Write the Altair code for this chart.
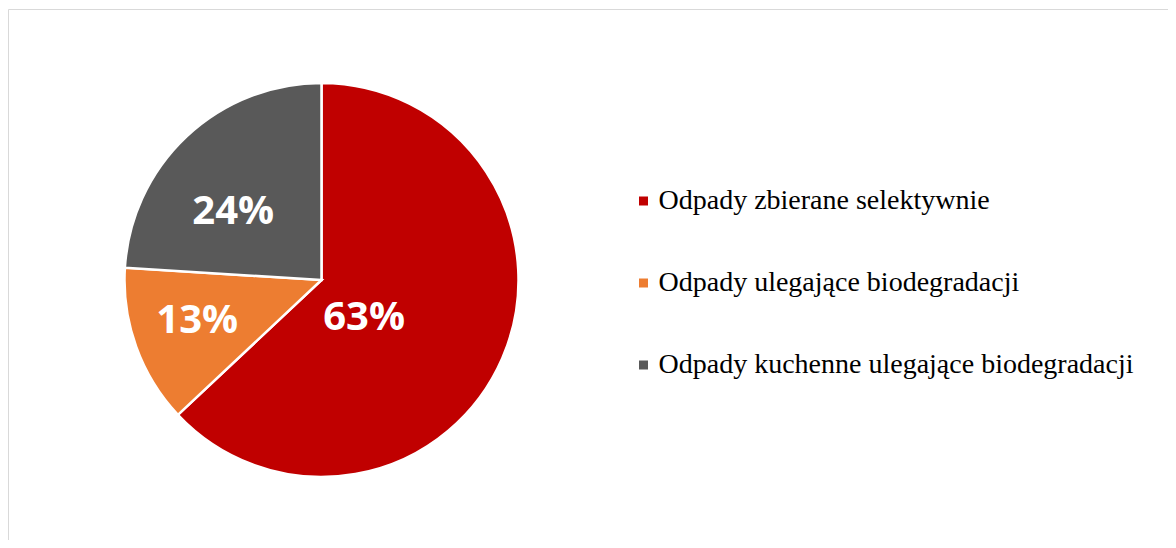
import altair as alt
import pandas as pd

categories = [
    "Odpady zbierane selektywnie",
    "Odpady ulegające biodegradacji",
    "Odpady kuchenne ulegające biodegradacji",
]
shares = [63, 13, 24]
labels = ["63%", "13%", "24%"]
order = [0, 1, 2]
colors = ["#C00000", "#ED7D31", "#595959"]

df = pd.DataFrame({"kategoria": categories, "udzial": shares, "etykieta": labels, "kolejnosc": order})
one = pd.DataFrame({"a": [0]})

W, H = 603, 520
PAD = {"left": 12, "top": 12, "right": 545, "bottom": 0}

base = alt.Chart(df).encode(
    theta=alt.Theta("udzial:Q", stack=True),
    order=alt.Order("kolejnosc:Q"),
)

pie = base.mark_arc(outerRadius=197, stroke="white", strokeWidth=2.5).encode(
    color=alt.Color(
        "kategoria:N",
        sort=categories,
        scale=alt.Scale(domain=categories, range=colors),
        legend=alt.Legend(
            title=None,
            orient="none",
            legendX=609.5,
            legendY=167,
            symbolType="square",
            symbolSize=81,
            symbolStrokeWidth=0,
            labelFont="Liberation Serif",
            labelFontSize=28,
            labelColor="#000000",
            labelLimit=1000,
            labelOffset=1,
            rowPadding=54,
        ),
    )
)


def lab(i, r, dx, dy):
    return base.mark_text(
        radius=r, dx=dx, dy=dy, font="Open Sans", fontWeight="bold", fontSize=40,
        color="white", align="center", baseline="middle",
    ).encode(
        text="etykieta:N",
        opacity=alt.condition(alt.datum.kolejnosc == i, alt.value(1), alt.value(0)),
    )


t0 = lab(0, 54, -7, 17)
t1 = lab(1, 131, -1, -3)
t2 = lab(2, 110, -13, 12)

frame_top = alt.Chart(one).mark_rule(color="#d9d9d9", strokeWidth=1).encode(
    x=alt.value(-11.5), x2=alt.value(W + 545), y=alt.value(-10.5)
)
frame_left = alt.Chart(one).mark_rule(color="#d9d9d9", strokeWidth=1).encode(
    x=alt.value(-11.5), y=alt.value(-10.5), y2=alt.value(H + 20)
)

chart = alt.layer(frame_top, frame_left, pie, t0, t1, t2).properties(
    width=W,
    height=H,
    padding=PAD,
    autosize=alt.AutoSizeParams(type="none"),
    background="white",
).configure_view(stroke="transparent")

chart.save("out.html", embed_options={"renderer": "svg", "actions": False})
